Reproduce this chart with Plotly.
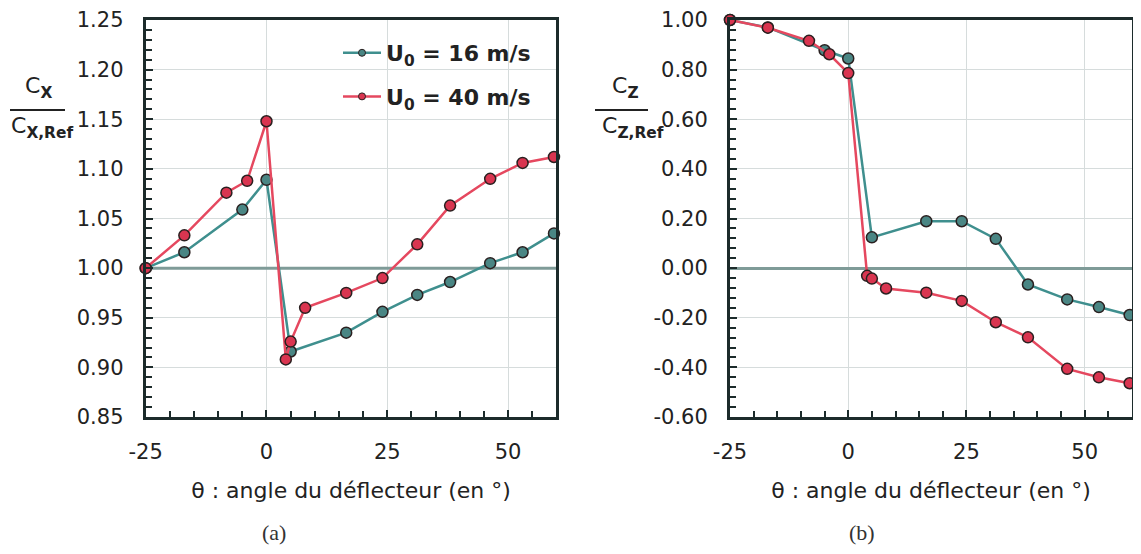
import plotly.graph_objects as go

# ---------------- data ----------------
THETA_16 = [-25, -17, -5, 0, 5, 16.5, 24, 31.2, 38, 46.3, 53, 59.5]
THETA_40 = [-25, -17, -8.3, -4, 0, 4, 5, 8, 16.5, 24, 31.2, 38, 46.3, 53, 59.5]

CX_16 = [1.000, 1.016, 1.059, 1.089, 0.916, 0.935, 0.956, 0.973, 0.986, 1.005, 1.016, 1.035]
CX_40 = [1.000, 1.033, 1.076, 1.088, 1.148, 0.908, 0.926, 0.960, 0.975, 0.990, 1.024, 1.063, 1.090, 1.106, 1.112]

CZ_16 = [1.000, 0.970, 0.878, 0.845, 0.124, 0.189, 0.189, 0.118, -0.066, -0.126, -0.157, -0.189]
CZ_40 = [1.000, 0.969, 0.916, 0.862, 0.786, -0.031, -0.042, -0.082, -0.099, -0.132, -0.218, -0.279, -0.406, -0.440, -0.464]

X_RANGE = [-25, 60]
X_TICKS = [-25, 0, 25, 50]
X_TICK_TEXT = ["-25", "0", "25", "50"]
Y1_TICKS = [0.85, 0.90, 0.95, 1.00, 1.05, 1.10, 1.15, 1.20, 1.25]
Y1_TICK_TEXT = ["0.85", "0.90", "0.95", "1.00", "1.05", "1.10", "1.15", "1.20", "1.25"]
Y2_TICKS = [-0.6, -0.4, -0.2, 0.0, 0.2, 0.4, 0.6, 0.8, 1.0]
Y2_TICK_TEXT = ["-0.60", "-0.40", "-0.20", "0.00", "0.20", "0.40", "0.60", "0.80", "1.00"]

LEGEND_NAMES = ["<b>U<sub>0</sub> = 16 m/s</b>", "<b>U<sub>0</sub> = 40 m/s</b>"]
X_TITLE = "θ : angle du déflecteur (en °)"
REF_LEFT = 1.0

# ---------------- style ----------------
OFF = 8                      # page body margin
W, H = 1141 - 2 * OFF, 554 - 2 * OFF
MT = 20 - OFF
MB = H - (417.5 - OFF)
PH = H - MT - MB
FONT = "DejaVu Sans"
TXT = "#222222"
AXC = "#1c2b2b"
GRID = "#d6dcdc"
ZLINE = "#7f9b98"
TEAL_LINE = "#3f8f8e"
TEAL_FILL = "#4a8684"
RED_LINE = "#e5485f"
RED_FILL = "#d93550"
EDGE = "#2a2020"


def px(x):
    return (x - OFF) / W


def py(y):
    return (H - MB - (y - OFF)) / PH


fig = go.Figure()

# reference line at Cx/Cx,ref = 1 (drawn first, under the series)
fig.add_trace(go.Scatter(x=X_RANGE, y=[REF_LEFT, REF_LEFT], mode="lines",
                         line=dict(color=ZLINE, width=3), xaxis="x", yaxis="y",
                         showlegend=False, hoverinfo="skip"))


def add_series(xs, ys, lc, fc, xa, ya):
    fig.add_trace(go.Scatter(
        x=xs, y=ys, mode="lines+markers", xaxis=xa, yaxis=ya,
        line=dict(color=lc, width=2.5),
        marker=dict(size=11, color=fc, line=dict(color=EDGE, width=1.5)),
        showlegend=False, cliponaxis=False, hoverinfo="x+y"))


add_series(THETA_16, CX_16, TEAL_LINE, TEAL_FILL, "x", "y")
add_series(THETA_40, CX_40, RED_LINE, RED_FILL, "x", "y")
add_series(THETA_16, CZ_16, TEAL_LINE, TEAL_FILL, "x2", "y2")
add_series(THETA_40, CZ_40, RED_LINE, RED_FILL, "x2", "y2")

# legend entries (small markers as in the reference)
for name, lc, fc, grp in [(LEGEND_NAMES[0], TEAL_LINE, TEAL_FILL, "a"),
                          (LEGEND_NAMES[1], RED_LINE, RED_FILL, "b")]:
    fig.add_trace(go.Scatter(
        x=[None], y=[None], mode="lines+markers", name=name, legendgroup=grp,
        line=dict(color=lc, width=2.5),
        marker=dict(size=7, color=fc, line=dict(color=EDGE, width=1)),
        xaxis="x", yaxis="y"))

common_x = dict(
    range=X_RANGE, tickmode="array", tickvals=X_TICKS, ticktext=X_TICK_TEXT,
    ticks="inside", ticklen=7,
    tickwidth=1.5, tickcolor=AXC, showline=True, linecolor=AXC, linewidth=3,
    mirror=True, showgrid=True, gridcolor=GRID, gridwidth=1, zeroline=False,
    tickfont=dict(family=FONT, size=21, color=TXT), ticklabelstandoff=14,
    minor=dict(tick0=-25, dtick=5, ticks="inside", ticklen=6, tickcolor=AXC, tickwidth=1.5, showgrid=False),
    title=dict(text=X_TITLE, font=dict(family=FONT, size=22, color=TXT), standoff=20),
    automargin=False,
)

common_y = dict(
    domain=[0, 1], tickmode="array", ticks="inside", ticklen=7, tickwidth=1.5, tickcolor=AXC,
    showline=True, linecolor=AXC, linewidth=3, mirror=True,
    showgrid=True, gridcolor=GRID, gridwidth=1,
    tickfont=dict(family=FONT, size=21, color=TXT), ticklabelstandoff=15,
    automargin=False,
)

fig.update_layout(
    width=W, height=H,
    margin=dict(l=0, r=0, t=MT, b=MB, pad=0),
    paper_bgcolor="white", plot_bgcolor="white",
    xaxis=dict(domain=[px(145.7), px(556.4)], anchor="y", **common_x),
    xaxis2=dict(domain=[px(730), px(1132)], anchor="y2", **common_x),
    yaxis=dict(
        anchor="x", range=[0.85, 1.25], tickvals=Y1_TICKS, ticktext=Y1_TICK_TEXT,
        zeroline=False,
        minor=dict(tick0=0.85, dtick=0.01, ticks="inside", ticklen=6, tickcolor=AXC, tickwidth=1.5, showgrid=False),
        **common_y),
    yaxis2=dict(
        anchor="x2", range=[-0.6, 1.0], tickvals=Y2_TICKS, ticktext=Y2_TICK_TEXT,
        zeroline=True, zerolinecolor=ZLINE, zerolinewidth=3,
        minor=dict(tick0=-0.6, dtick=0.04, ticks="inside", ticklen=6, tickcolor=AXC, tickwidth=1.5, showgrid=False),
        **common_y),
    legend=dict(
        x=px(338), y=py(32), xanchor="left", yanchor="top",
        bgcolor="rgba(0,0,0,0)", font=dict(family=FONT, size=22, color=TXT),
        itemwidth=38, traceorder="grouped", tracegroupgap=12),
    showlegend=True,
)

# y-axis fraction titles
for xn, xd, x0, x1, num, den in [
        (38, 42, 10, 65, "C<sub><b>X</b></sub>", "C<sub><b>X,Ref</b></sub>"),
        (625, 633, 595, 648, "C<sub><b>Z</b></sub>", "C<sub><b>Z,Ref</b></sub>")]:
    fig.add_annotation(x=px(xn), y=py(88), xref="paper", yref="paper", text=num,
                       showarrow=False, xanchor="center", yanchor="middle",
                       font=dict(family=FONT, size=22, color=TXT))
    fig.add_annotation(x=px(xd), y=py(128), xref="paper", yref="paper", text=den,
                       showarrow=False, xanchor="center", yanchor="middle",
                       font=dict(family=FONT, size=22, color=TXT))
    fig.add_shape(type="line", xref="paper", yref="paper", x0=px(x0), x1=px(x1),
                  y0=py(110), y1=py(110), line=dict(color=TXT, width=2))

# captions
for xc, lab in [(274, "(a)"), (862, "(b)")]:
    fig.add_annotation(x=px(xc), y=py(533), xref="paper", yref="paper", text=lab,
                       showarrow=False, xanchor="center", yanchor="middle",
                       font=dict(family="Liberation Serif", size=22, color="#333333"))

fig.write_html("out.html")
